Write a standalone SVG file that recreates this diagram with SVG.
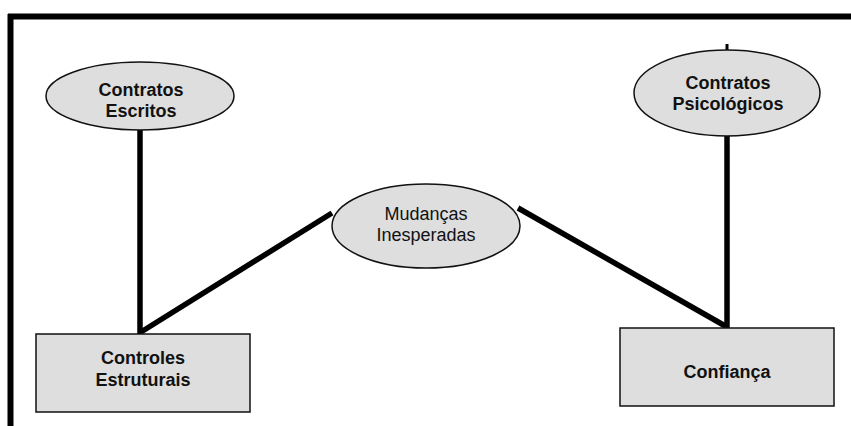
<svg xmlns="http://www.w3.org/2000/svg" width="851" height="426" viewBox="0 0 851 426">
  <style>
    .shape { fill: #dedede; stroke: #111; stroke-width: 1.5; }
    .link { stroke: #000; stroke-width: 5.5; fill: none; }
    .frame { stroke: #000; stroke-width: 6; fill: none; }
    .bold { font-family: "Liberation Sans", Arial, sans-serif; font-size: 18px; font-weight: bold; fill: #111; text-anchor: middle; }
    .plain { font-family: "Liberation Sans", Arial, sans-serif; font-size: 18px; fill: #111; text-anchor: middle; }
  </style>
  <rect width="851" height="426" fill="#fff"/>

  <!-- outer frame: top and left edges -->
  <g id="frame">
    <line class="frame" x1="8" y1="16.5" x2="851" y2="16.5"/>
    <line class="frame" x1="10.5" y1="14" x2="10.5" y2="426"/>
  </g>

  <!-- connectors -->
  <g id="connectors">
    <line class="link" x1="140" y1="126" x2="140" y2="334"/>
    <line class="link" x1="141" y1="332" x2="332" y2="213"/>
    <line class="link" x1="518" y1="208" x2="727" y2="327"/>
    <line class="link" x1="727" y1="130" x2="727" y2="329"/>
    <line x1="727" y1="44" x2="727" y2="52" stroke="#000" stroke-width="3"/>
  </g>

  <g id="contratos-escritos">
    <ellipse class="shape" cx="140" cy="96" rx="94" ry="34"/>
    <text class="bold" x="141" y="96">Contratos</text>
    <text class="bold" x="141" y="117">Escritos</text>
  </g>

  <g id="contratos-psicologicos">
    <ellipse class="shape" cx="727" cy="93" rx="93" ry="43"/>
    <text class="bold" x="728" y="89">Contratos</text>
    <text class="bold" x="728" y="110">Psicológicos</text>
  </g>

  <g id="mudancas-inesperadas">
    <ellipse class="shape" cx="426" cy="226" rx="94" ry="42"/>
    <text class="plain" x="426" y="220">Mudanças</text>
    <text class="plain" x="426" y="241">Inesperadas</text>
  </g>

  <g id="controles-estruturais">
    <rect class="shape" x="36" y="334" width="214" height="78"/>
    <text class="bold" x="143" y="364">Controles</text>
    <text class="bold" x="143" y="386">Estruturais</text>
  </g>

  <g id="confianca">
    <rect class="shape" x="620" y="328" width="214" height="78"/>
    <text class="bold" x="727" y="378">Confiança</text>
  </g>
</svg>
